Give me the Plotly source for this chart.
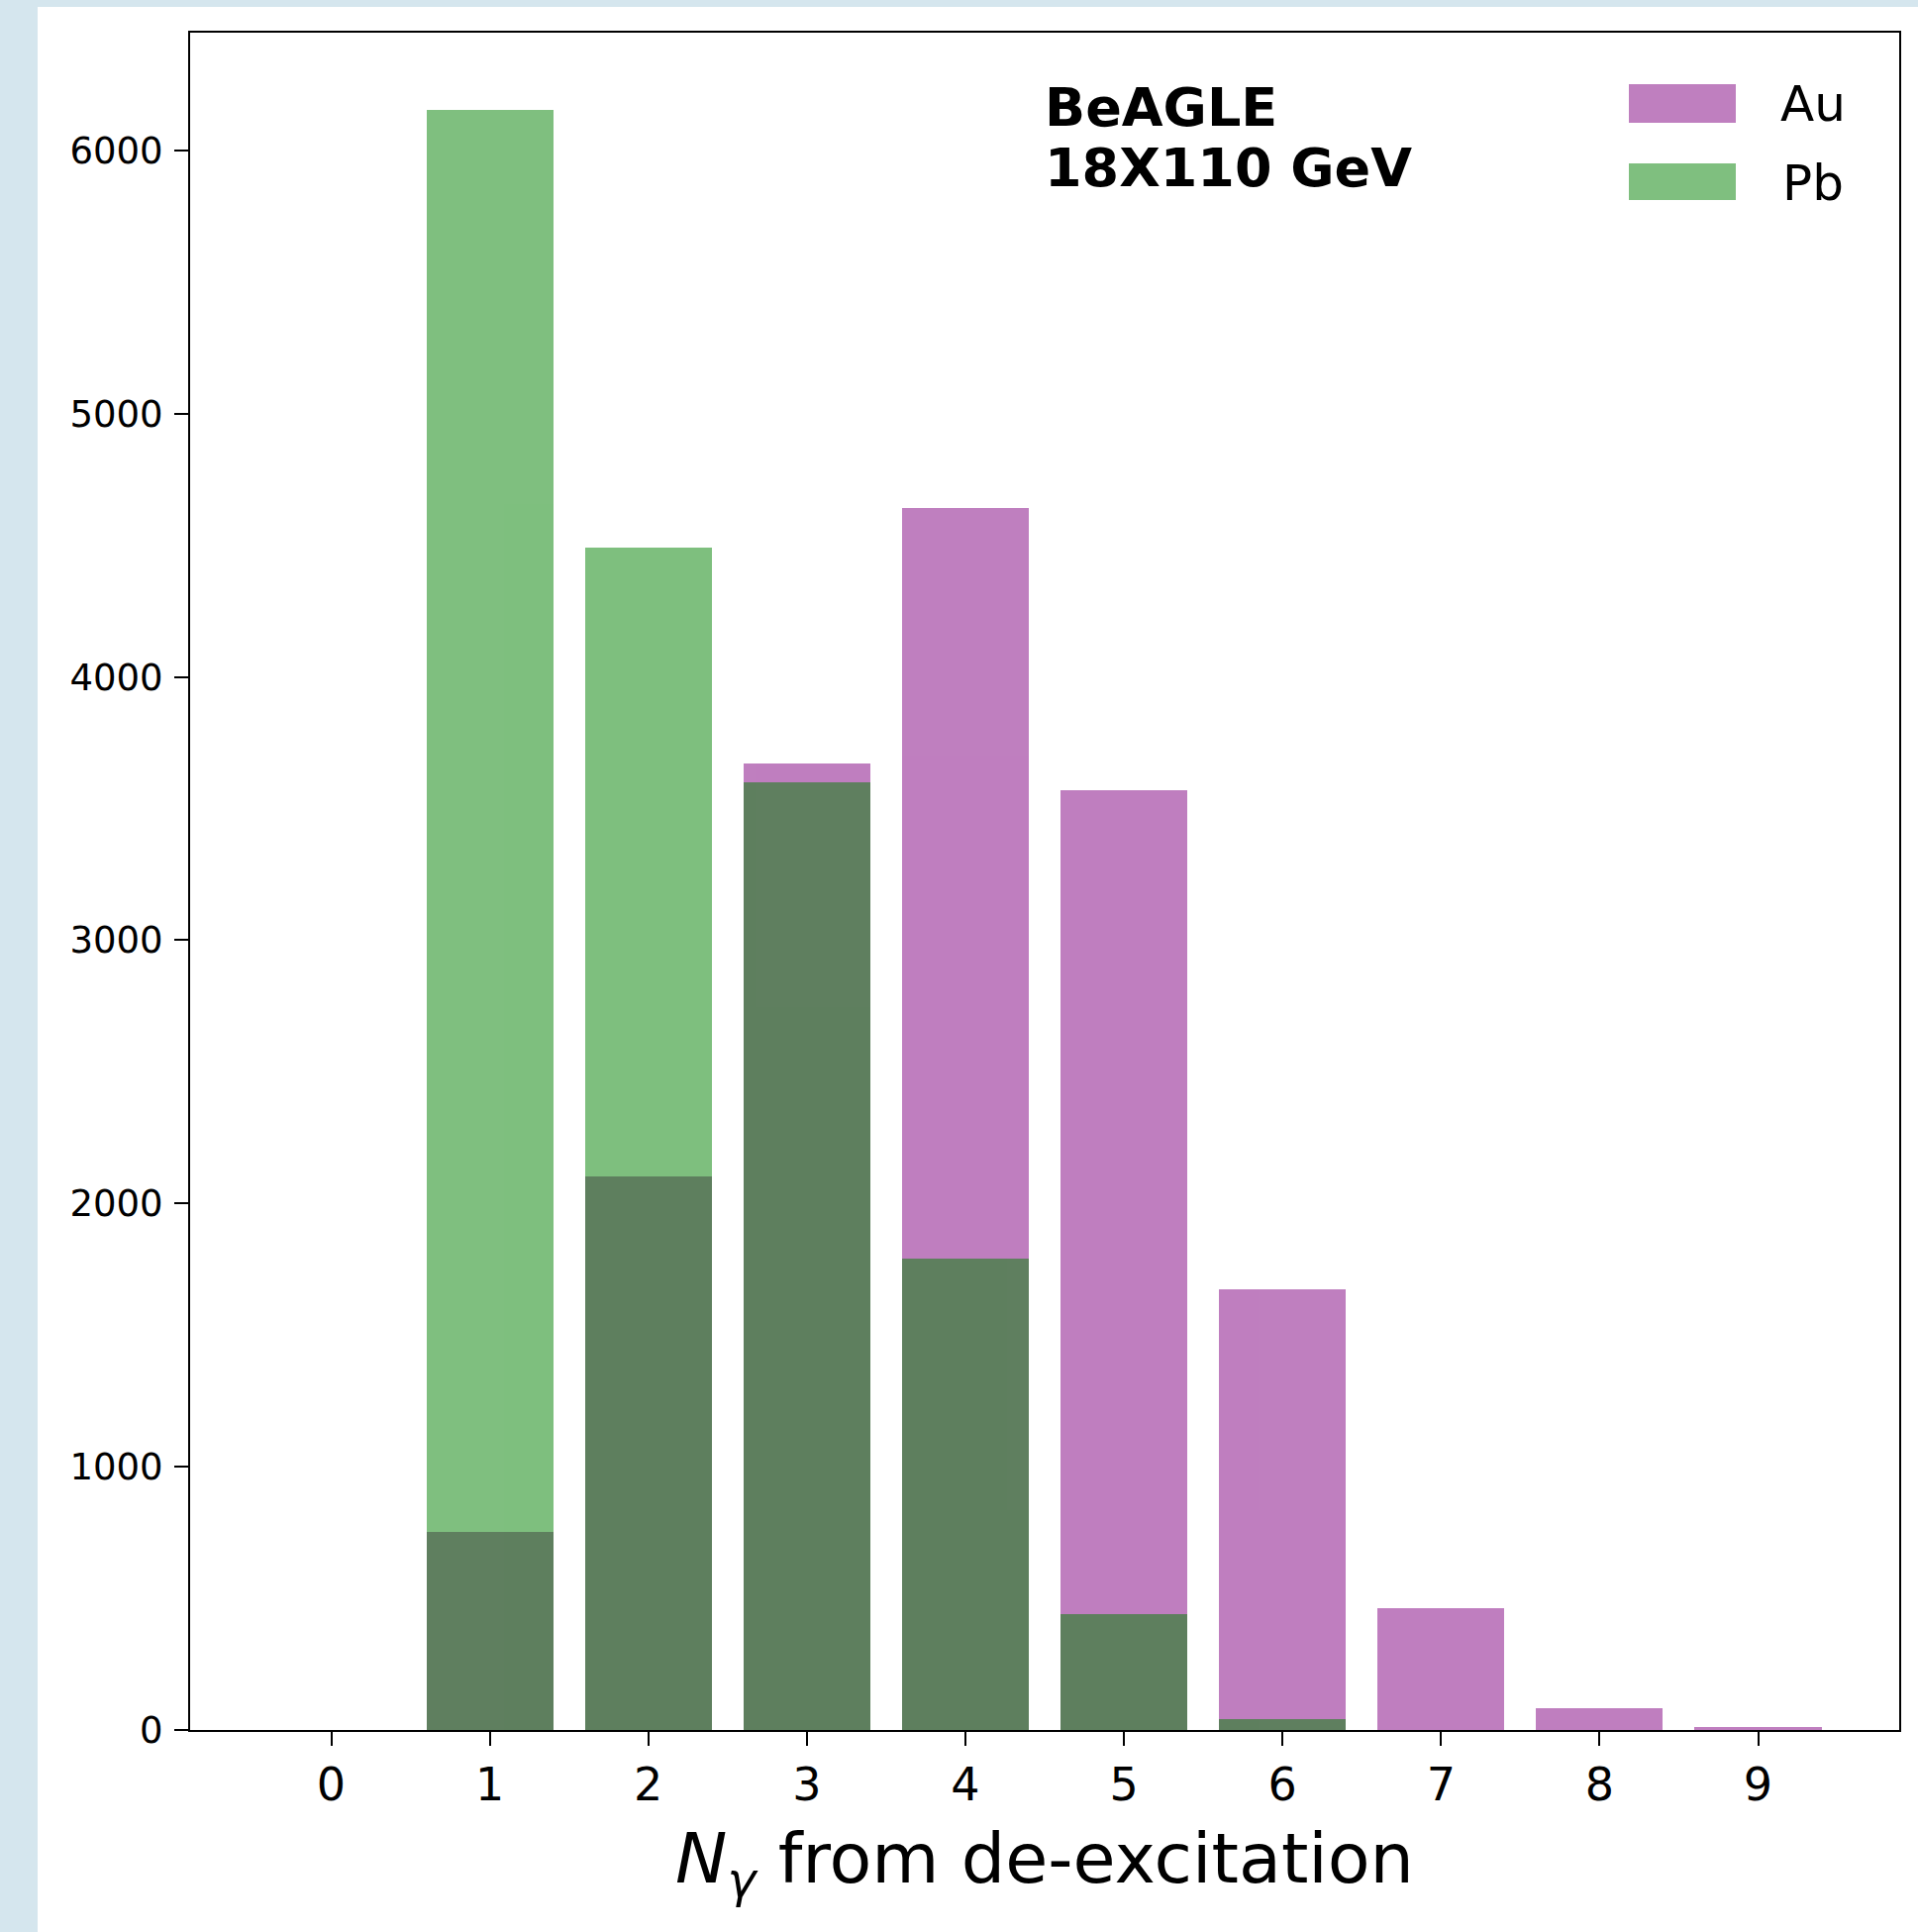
import plotly.graph_objects as go

# ---- data ----
n_gamma = [0, 1, 2, 3, 4, 5, 6, 7, 8, 9]
au_counts = [0, 752, 2104, 3672, 4642, 3570, 1675, 461, 83, 12]
pb_counts = [0, 6152, 4490, 3600, 1790, 440, 42, 0, 0, 0]
y_ticks = [0, 1000, 2000, 3000, 4000, 5000, 6000]
series_names = ["Au", "Pb"]
label_lines = ["BeAGLE", "18X110 GeV"]

# ---- geometry ----
W, H = 1937, 1951
ML, MR, MT, MB = 192, 19, 33, 204
PW, PH = W - ML - MR, H - MT - MB


def px(x):
    return (x - ML) / PW


def py(y):
    return (H - MB - y) / PH


FONT = "DejaVu Sans"
fig = go.Figure()
fig.add_trace(go.Bar(x=n_gamma, y=au_counts, name=series_names[0], width=0.8,
                     marker=dict(color="purple", line=dict(width=0)), opacity=0.5,
                     showlegend=False))
fig.add_trace(go.Bar(x=n_gamma, y=pb_counts, name=series_names[1], width=0.8,
                     marker=dict(color="green", line=dict(width=0)), opacity=0.5,
                     showlegend=False))

shapes = [
    # light blue page strips
    dict(type="rect", xref="paper", yref="paper", x0=px(0), x1=px(38), y0=py(H), y1=py(0),
         fillcolor="#D5E6EE", line=dict(width=0), layer="below"),
    dict(type="rect", xref="paper", yref="paper", x0=px(0), x1=px(W), y0=py(7), y1=py(0),
         fillcolor="#D5E6EE", line=dict(width=0), layer="below"),
    # legend patches
    dict(type="rect", xref="paper", yref="paper", x0=px(1645), x1=px(1753), y0=py(124), y1=py(85),
         fillcolor="purple", opacity=0.5, line=dict(width=0)),
    dict(type="rect", xref="paper", yref="paper", x0=px(1645), x1=px(1753), y0=py(202), y1=py(165),
         fillcolor="green", opacity=0.5, line=dict(width=0)),
]

annotations = [
    dict(text="<b>" + label_lines[0] + "</b>", xref="paper", yref="paper", x=px(1053), y=py(108),
         xanchor="left", yanchor="middle", showarrow=False, font=dict(family=FONT, size=54, color="black")),
    dict(text="<b>" + label_lines[1] + "</b>", xref="paper", yref="paper", x=px(1053), y=py(169),
         xanchor="left", yanchor="middle", showarrow=False, font=dict(family=FONT, size=54, color="black")),
    dict(text=series_names[0], xref="paper", yref="paper", x=px(1796), y=py(105),
         xanchor="left", yanchor="middle", showarrow=False, font=dict(family=FONT, size=50, color="black")),
    dict(text=series_names[1], xref="paper", yref="paper", x=px(1798), y=py(185),
         xanchor="left", yanchor="middle", showarrow=False, font=dict(family=FONT, size=50, color="black")),
]

fig.update_layout(
    width=W, height=H,
    margin=dict(l=ML, r=MR, t=MT, b=MB, pad=0),
    paper_bgcolor="white", plot_bgcolor="white",
    barmode="overlay", bargap=0,
    shapes=shapes, annotations=annotations,
    font=dict(family=FONT, color="black"),
    xaxis=dict(range=[-0.89, 9.89], tickmode="array", tickvals=n_gamma,
               ticktext=[str(v) for v in n_gamma],
               showgrid=False, zeroline=False, showline=True, linecolor="black", linewidth=2,
               mirror=True, ticks="outside", ticklen=14, tickwidth=2, tickcolor="black",
               tickfont=dict(family=FONT, size=46, color="black"),
               title=dict(text="<i>N<sub>γ</sub></i> from de-excitation",
                          font=dict(family=FONT, size=70, color="black"), standoff=24)),
    yaxis=dict(range=[0, 6447], tickmode="array", tickvals=y_ticks,
               showgrid=False, zeroline=False, showline=True, linecolor="black", linewidth=2,
               mirror=True, ticks="outside", ticklen=14, tickwidth=2, tickcolor="black",
               ticklabelstandoff=4,
               tickfont=dict(family=FONT, size=37, color="black")),
)

fig.write_html("out.html", config={"displayModeBar": False},
               post_script="document.body.style.margin='0';document.body.style.overflow='hidden';")
